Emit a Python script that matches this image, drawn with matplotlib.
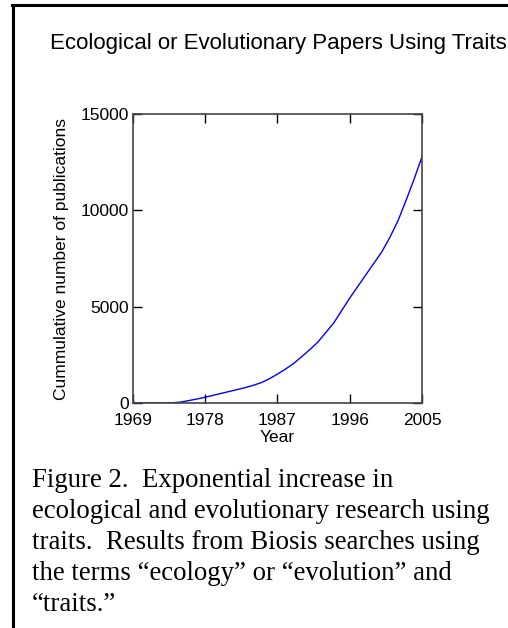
import matplotlib
matplotlib.use("Agg")
import matplotlib.pyplot as plt
from matplotlib.lines import Line2D

years = list(range(1969, 2006))
cumulative = [0, 0, 0, 0, 5, 15, 50, 130, 210, 300, 400, 500, 600, 700, 800,
              920, 1060, 1260, 1500, 1760, 2050, 2400, 2760, 3150, 3650, 4150,
              4800, 5450, 6050, 6650, 7250, 7850, 8600, 9450, 10500, 11600, 12780]
xticks = [1969, 1978, 1987, 1996, 2005]
yticks = [0, 5000, 10000, 15000]

title = "Ecological or Evolutionary Papers Using Traits"
caption = ("Figure 2.  Exponential increase in\n"
           "ecological and evolutionary research using\n"
           "traits.  Results from Biosis searches using\n"
           "the terms \u201cecology\u201d or \u201cevolution\u201d and\n"
           "\u201ctraits.\u201d")

W, H = 508, 628
fig = plt.figure(figsize=(W / 100, H / 100), dpi=100)
fig.patch.set_facecolor("white")

ax = fig.add_axes([133 / W, 1 - 403 / H, (422 - 133) / W, (403 - 114) / H])
ax.plot(years, cumulative, color="#0000ff", lw=1.0)
ax.set_xlim(1969, 2005)
ax.set_ylim(0, 15000)
ax.set_xticks(xticks)
ax.set_yticks(yticks)
ax.tick_params(direction="in", length=6.5, width=1, top=True, right=True,
               labelsize=12.5, colors="black")
ax.tick_params(axis="x", pad=7)
ax.tick_params(axis="y", pad=3)
for lab in ax.get_xticklabels() + ax.get_yticklabels():
    lab.set_fontfamily("Liberation Sans")
for s in ax.spines.values():
    s.set_linewidth(1.2)
    s.set_color("#444444")
ax.set_xlabel("Year", fontsize=12.5, family="Liberation Sans", labelpad=2)
ax.set_ylabel("Cummulative number of publications", fontsize=12.5,
              family="Liberation Sans", labelpad=8)

fig.text(278 / W, 1 - 44 / H, title, ha="center", va="center", fontsize=16,
         family="Liberation Sans")
fig.text(32 / W, 1 - 468 / H, caption, ha="left", va="top", fontsize=19.3,
         family="Liberation Serif", linespacing=1.32)

# partial frame: left and top borders
fig.add_artist(Line2D([13 / W, 13 / W], [0, 1 - 5 / H], transform=fig.transFigure,
                      color="black", lw=2.2))
fig.add_artist(Line2D([12 / W, 1], [1 - 5 / H, 1 - 5 / H], transform=fig.transFigure,
                      color="black", lw=2.2))

fig.savefig("out.png", dpi=100, facecolor="white")
